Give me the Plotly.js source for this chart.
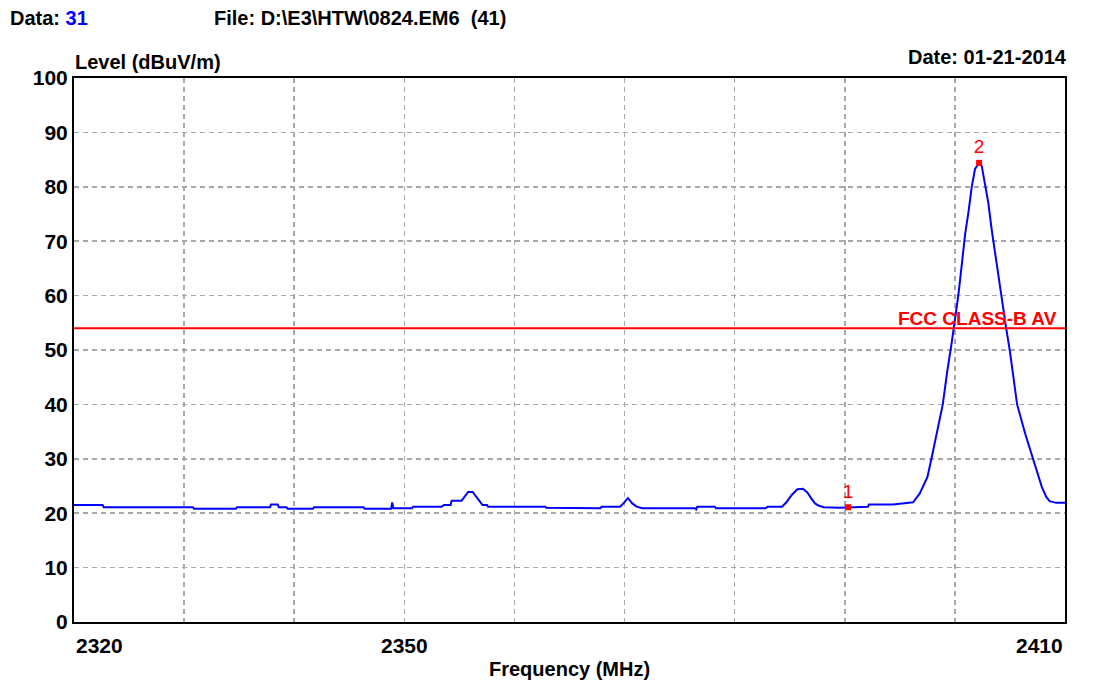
<!DOCTYPE html>
<html>
<head>
<meta charset="utf-8">
<script src="https://cdn.plot.ly/plotly-3.0.1.min.js"></script>
<style>html,body{margin:0;padding:0;background:#fff;}#chart{width:1094px;height:683px;}</style>
</head>
<body>
<div id="chart"></div>
<script>
// Measured trace (MHz, dBuV/m)
const freq = [2320.0,2322.6,2322.7,2330.8,2330.9,2334.7,2334.8,2337.8,2337.9,2338.5,2338.6,2339.3,2339.4,2341.7,2341.8,2346.3,2346.4,2348.8,2348.9,2349.0,2350.7,2350.8,2353.4,2353.6,2354.2,2354.3,2355.2,2355.5,2355.8,2356.2,2356.5,2356.8,2357.1,2357.5,2357.6,2362.8,2362.9,2367.8,2367.9,2369.6,2369.9,2370.3,2370.7,2371.1,2371.6,2376.4,2376.5,2376.6,2378.2,2378.3,2382.8,2383.0,2384.3,2384.7,2385.2,2385.7,2386.2,2386.6,2387.0,2387.3,2387.6,2388.1,2389.5,2390.3,2392.1,2392.2,2394.4,2395.2,2396.2,2396.8,2397.5,2397.9,2398.4,2398.9,2399.3,2399.56,2399.72,2400.02,2400.32,2400.63,2400.93,2401.23,2401.53,2401.83,2402.2,2402.44,2402.74,2403.04,2403.35,2403.65,2403.95,2404.25,2404.65,2405.0,2405.65,2406.4,2407.1,2407.6,2407.9,2408.3,2408.6,2409.2,2410.0];
const level = [21.5,21.5,21.1,21.1,20.8,20.8,21.1,21.1,21.6,21.6,21.1,21.1,20.8,20.8,21.1,21.1,20.8,20.8,22.0,20.9,20.9,21.2,21.2,21.5,21.5,22.3,22.3,23.2,23.9,23.9,23.2,22.3,21.5,21.5,21.2,21.2,21.0,20.9,21.2,21.2,21.8,22.8,21.8,21.2,20.9,20.9,20.7,21.2,21.2,20.9,20.9,21.2,21.2,22.0,23.4,24.4,24.5,23.8,22.6,21.8,21.4,21.1,21.0,21.1,21.2,21.6,21.6,21.8,22.0,23.6,26.6,30.3,35.0,40.0,46.0,50.0,51.5,55.8,60.2,65.8,71.3,75.3,80.0,83.3,84.4,83.8,80.0,77.0,72.0,67.8,63.4,59.0,54.1,49.7,40.0,34.5,30.0,26.8,24.8,23.0,22.2,21.9,21.9];

const limitFreq = [2320, 2410];
const limitLevel = [54, 54];
const limitName = "FCC CLASS-B AV";

const markerFreq = [2390.3, 2402.2];
const markerLevel = [21.1, 84.4];
const markerLabels = ["1", "2"];

const xGrid = [2320,2330,2340,2350,2360,2370,2380,2390,2400,2410];
const xLabelVals = [2320, 2350, 2410];
const yTicks = [0,10,20,30,40,50,60,70,80,90,100];

const FONT = "Liberation Sans, Arial, sans-serif";
const L = 74, R = 1065, T = 78, B = 622;
const px = x => (x - L) / (R - L);
const py = y => (B - y) / (B - T);

const traces = [
  {x: freq, y: level, type: 'scatter', mode: 'lines', line: {color: '#0000ff', width: 2}, hoverinfo: 'skip'},
  {x: limitFreq, y: limitLevel, type: 'scatter', mode: 'lines', line: {color: '#ff0000', width: 2}, hoverinfo: 'skip'},
  {x: markerFreq, y: markerLevel, type: 'scatter', mode: 'markers+text', text: markerLabels, textposition: 'top center',
   textfont: {family: FONT, size: 19, color: '#ff0000'},
   marker: {symbol: 'square', size: 6, color: '#ff0000'}, hoverinfo: 'skip'}
];

const bold = s => '<b>' + s + '</b>';
const annotations = [
  {xref: 'paper', yref: 'paper', x: px(8), y: py(18), xanchor: 'left', yanchor: 'middle', showarrow: false,
   text: bold('Data: <span style="color:#0000ff">31</span>'), font: {family: FONT, size: 20, color: '#000'}},
  {xref: 'paper', yref: 'paper', x: px(212), y: py(18), xanchor: 'left', yanchor: 'middle', showarrow: false,
   text: bold('File: D:\\E3\\HTW\\0824.EM6&nbsp;&nbsp;(41)'), font: {family: FONT, size: 20, color: '#000'}},
  {xref: 'paper', yref: 'paper', x: px(73), y: py(62), xanchor: 'left', yanchor: 'middle', showarrow: false,
   text: bold('Level (dBuV/m)'), font: {family: FONT, size: 20, color: '#000'}},
  {xref: 'paper', yref: 'paper', x: px(1069), y: py(57), xanchor: 'right', yanchor: 'middle', showarrow: false,
   text: bold('Date: 01-21-2014'), font: {family: FONT, size: 20, color: '#000'}},
  {xref: 'paper', yref: 'paper', x: px(569), y: py(669), xanchor: 'center', yanchor: 'middle', showarrow: false,
   text: bold('Frequency (MHz)'), font: {family: FONT, size: 20, color: '#000'}},
  {xref: 'x', yref: 'y', x: 2409.5, y: limitLevel[0], xanchor: 'right', yanchor: 'bottom', showarrow: false, yshift: -3,
   text: bold(limitName), font: {family: FONT, size: 19, color: '#ff0000'}}
];
const xAnch = ['left', 'center', 'right'];
xLabelVals.forEach((v, i) => {
  annotations.push({xref: 'x', yref: 'paper', x: v, y: py(645), xanchor: xAnch[i], yanchor: 'middle', showarrow: false,
    text: bold(String(v)), font: {family: FONT, size: 21, color: '#000'}});
});

const layout = {
  width: 1094, height: 683,
  margin: {l: L, r: 1094 - R, t: T, b: 683 - B, pad: 0},
  paper_bgcolor: '#fff', plot_bgcolor: '#fff',
  showlegend: false,
  xaxis: {range: [2320, 2410], tickvals: xGrid, showticklabels: false, ticks: '',
          showgrid: true, gridcolor: '#a8a8a8', gridwidth: 1.5, griddash: '5px,4px',
          showline: true, linecolor: '#000', linewidth: 2, mirror: true, zeroline: false},
  yaxis: {range: [0, 100], tickvals: yTicks, ticks: '', ticklabelstandoff: 0,
          tickfont: {family: FONT, size: 21, color: '#000', weight: 'bold'},
          showgrid: true, gridcolor: '#a8a8a8', gridwidth: 1.5, griddash: '5px,4px',
          showline: true, linecolor: '#000', linewidth: 2, mirror: true, zeroline: false},
  annotations: annotations
};

Plotly.newPlot('chart', traces, layout, {displayModeBar: false, staticPlot: true});
</script>
</body>
</html>
